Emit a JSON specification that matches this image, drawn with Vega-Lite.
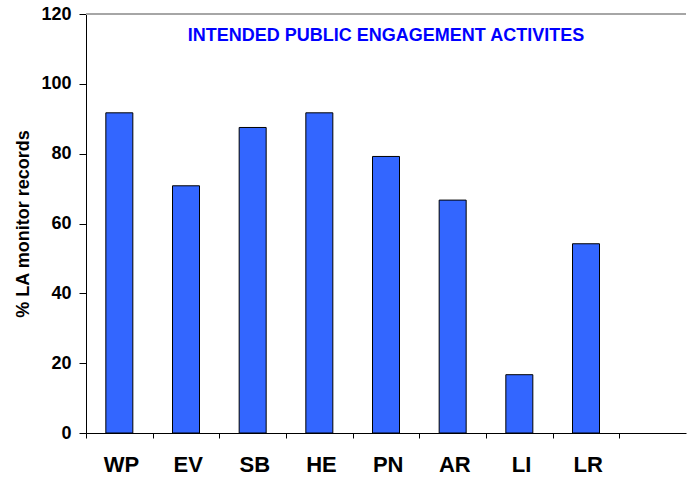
{
  "$schema": "https://vega.github.io/schema/vega-lite/v6.json",
  "width": 600,
  "height": 419,
  "autosize": {"type": "none"},
  "padding": {"left": 86, "top": 14, "right": 1, "bottom": 44},
  "background": "white",
  "config": {
    "view": {"stroke": null},
    "font": "Liberation Sans"
  },
  "title": {
    "text": "INTENDED PUBLIC ENGAGEMENT ACTIVITES",
    "font": "Liberation Sans",
    "fontSize": 18,
    "fontWeight": "bold",
    "color": "#0000ff",
    "anchor": "middle",
    "baseline": "alphabetic",
    "offset": 0,
    "dy": 54
  },
  "data": {
    "values": [
      {"category": "WP", "percent": 91.7},
      {"category": "EV", "percent": 70.8},
      {"category": "SB", "percent": 87.5},
      {"category": "HE", "percent": 91.7},
      {"category": "PN", "percent": 79.2},
      {"category": "AR", "percent": 66.7},
      {"category": "LI", "percent": 16.7},
      {"category": "LR", "percent": 54.2}
    ]
  },
  "layer": [
    {
      "mark": {"type": "rule", "color": "#a6a6a6", "strokeWidth": 1.5},
      "encoding": {
        "y": {"datum": 120, "type": "quantitative"}
      }
    },
    {
      "mark": {"type": "bar", "color": "#3366ff", "stroke": "#000000", "strokeWidth": 1},
      "encoding": {
        "x": {
          "field": "category",
          "type": "nominal",
          "sort": null,
          "scale": {
            "domain": ["WP", "EV", "SB", "HE", "PN", "AR", "LI", "LR", "_"],
            "paddingInner": 0.595,
            "paddingOuter": 0.2975
          },
          "axis": {
            "title": null,
            "labelAngle": 0,
            "labelExpr": "datum.value == '_' ? '' : datum.value",
            "labelFont": "Liberation Sans",
            "labelFontSize": 22,
            "labelFontWeight": "bold",
            "labelColor": "#000000",
            "labelPadding": 16,
            "tickOffset": -33.33,
            "labelOffset": 35,
            "tickSize": 5,
            "tickColor": "#000000",
            "domainColor": "#000000",
            "grid": false
          }
        },
        "y": {
          "field": "percent",
          "type": "quantitative",
          "scale": {"domain": [0, 120], "nice": false},
          "axis": {
            "title": "% LA monitor records",
            "titleFont": "Liberation Sans",
            "titleFontSize": 18,
            "titleFontWeight": "bold",
            "titleColor": "#000000",
            "titlePadding": 8,
            "values": [0, 20, 40, 60, 80, 100, 120],
            "labelFont": "Liberation Sans",
            "labelFontSize": 18,
            "labelFontWeight": "bold",
            "labelColor": "#000000",
            "labelPadding": 8,
            "tickSize": 7,
            "tickColor": "#000000",
            "domainColor": "#000000",
            "grid": false
          }
        }
      }
    }
  ]
}
